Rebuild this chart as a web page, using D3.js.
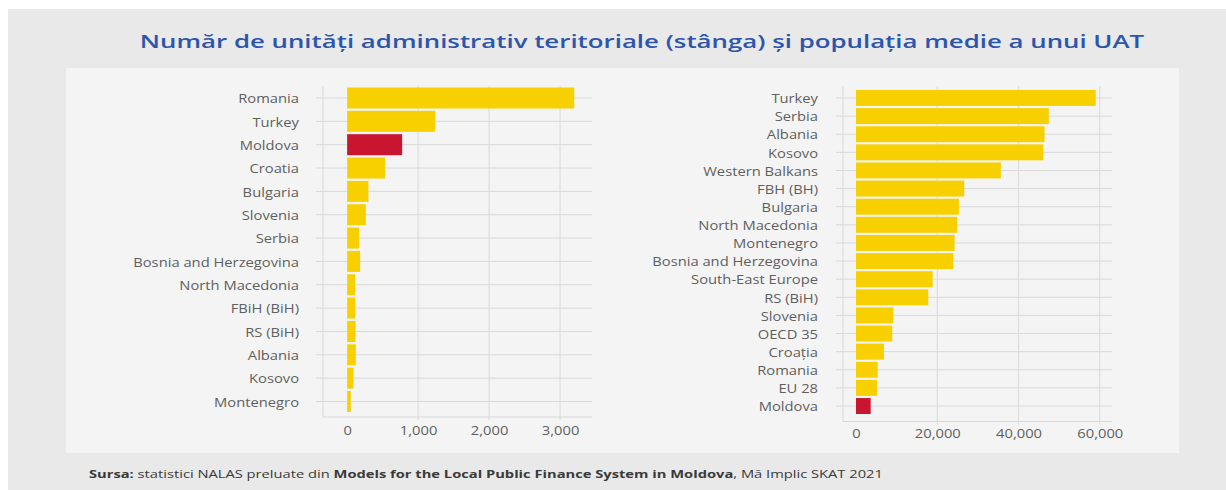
<!DOCTYPE html>
<html><head><meta charset="utf-8">
<script src="https://cdn.jsdelivr.net/npm/d3@7"></script>
<style>body{margin:0;background:#fff}svg{display:block}</style>
</head><body>
<svg id="c" width="1226" height="490"></svg>
<script>
const titleText = "Număr de unități administrativ teritoriale (stânga) și populația medie a unui UAT";
const leftCats = ["Romania","Turkey","Moldova","Croatia","Bulgaria","Slovenia","Serbia","Bosnia and Herzegovina","North Macedonia","FBiH (BiH)","RS (BiH)","Albania","Kosovo","Montenegro"];
const leftValues = [3200,1240,775,535,300,263,169,183,113,113,117,122,89,52];
const leftTicks = [0,1000,2000,3000];
const rightCats = ["Turkey","Serbia","Albania","Kosovo","Western Balkans","FBH (BH)","Bulgaria","North Macedonia","Montenegro","Bosnia and Herzegovina","South-East Europe","RS (BiH)","Slovenia","OECD 35","Croația","Romania","EU 28","Moldova"];
const rightValues = [59000,47450,46400,46070,35650,26640,25330,24920,24260,23930,18860,17790,9180,8930,6890,5330,5160,3610];
const rightTicks = [0,20000,40000,60000];
const highlight = "Moldova";

const YELLOW = "#f8d000", RED = "#c9152f", GRID = "#d9d9d9", LABEL = "#5f5f5f";
const FONT = "'Open Sans', sans-serif";

const svg = d3.select("#c");
svg.append("rect").attr("x",8).attr("y",9).attr("width",1218).attr("height",481).attr("fill","#e9e9e9");
svg.append("rect").attr("x",66).attr("y",68).attr("width",1113).attr("height",385).attr("fill","#f4f4f4");

// measure stretch factor from the widest label
const probe = svg.append("text").attr("font-family",FONT).attr("font-size",12.5).text("Bosnia and Herzegovina");
const K = 166 / probe.node().getComputedTextLength();
probe.remove();

// title
const title = svg.append("text").attr("font-family",FONT).attr("font-size",18).attr("font-weight",600)
  .attr("fill","#2c55ad").attr("text-anchor","middle").text(titleText);
const tw = title.node().getComputedTextLength();
title.attr("transform",`translate(642,47.5) scale(${1005/tw},1)`);

function panel(cfg){
  const g = svg.append("g");
  const x = d3.scaleLinear().domain(cfg.domain).range(cfg.xRange);
  const y = d3.scaleBand().domain(cfg.cats).range(cfg.yRange).paddingInner(cfg.pad).paddingOuter(0);
  const top = cfg.top, bottom = cfg.bottom;
  const x0 = cfg.xRange[0], x1 = cfg.xRange[1];
  // vertical gridlines
  g.selectAll(".vg").data(cfg.ticks.slice(1)).join("line")
    .attr("x1",d=>x(d)).attr("x2",d=>x(d)).attr("y1",top).attr("y2",bottom+3)
    .attr("stroke",GRID).attr("stroke-width",1);
  // horizontal category gridlines
  g.selectAll(".hg").data(cfg.cats).join("line")
    .attr("x1",x0-7).attr("x2",x1).attr("y1",d=>y(d)+y.bandwidth()/2).attr("y2",d=>y(d)+y.bandwidth()/2)
    .attr("stroke",GRID).attr("stroke-width",1);
  // axis lines
  g.append("line").attr("x1",x0).attr("x2",x0).attr("y1",top).attr("y2",bottom).attr("stroke",GRID);
  g.append("line").attr("x1",x0).attr("x2",x1).attr("y1",bottom).attr("y2",bottom).attr("stroke",GRID);
  // bars
  g.selectAll(".bar").data(cfg.cats).join("rect")
    .attr("x",x(0)).attr("y",d=>y(d)).attr("height",y.bandwidth())
    .attr("width",(d,i)=>x(cfg.vals[i])-x(0))
    .attr("fill",d=>d===highlight?RED:YELLOW);
  // category axis
  const ya = g.append("g").attr("transform",`translate(${x0},0)`)
    .call(d3.axisLeft(y).tickSize(0).tickPadding(cfg.labelGap));
  ya.select(".domain").remove();
  ya.selectAll("text").attr("font-family",FONT).attr("font-size",12.5).attr("fill",LABEL)
    .attr("x",-cfg.labelGap/K).attr("dy","0.42em").attr("transform",`scale(${K},1)`);
  // value axis
  const xa = g.append("g").attr("transform",`translate(0,${bottom})`)
    .call(d3.axisBottom(x).tickValues(cfg.ticks).tickFormat(d3.format(",")).tickSize(0).tickPadding(cfg.tickGap));
  xa.select(".domain").remove();
  xa.selectAll("text").attr("font-family",FONT).attr("font-size",12.5).attr("fill",LABEL)
    .attr("transform",`scale(${K},1)`);
}

panel({cats:leftCats, vals:leftValues, ticks:leftTicks, domain:[-340,3450], xRange:[323,592],
  yRange:[87.5,412], pad:0.1, top:86, bottom:417, labelGap:24, tickGap:9});
panel({cats:rightCats, vals:rightValues, ticks:rightTicks, domain:[-3200,63000], xRange:[843,1112],
  yRange:[90,414], pad:0.12, top:86, bottom:421.5, labelGap:25, tickGap:8});

// footer
const foot = svg.append("text").attr("font-family",FONT).attr("font-size",11).attr("fill","#3a3a3a");
foot.append("tspan").attr("font-weight","bold").text("Sursa:");
foot.append("tspan").text(" statistici NALAS preluate din ");
foot.append("tspan").attr("font-weight","bold").text("Models for the Local Public Finance System in Moldova");
foot.append("tspan").text(", Mă Implic SKAT 2021");
const fw = foot.node().getComputedTextLength();
foot.attr("transform",`translate(89,478) scale(${795/fw},1)`);
</script>
</body></html>
